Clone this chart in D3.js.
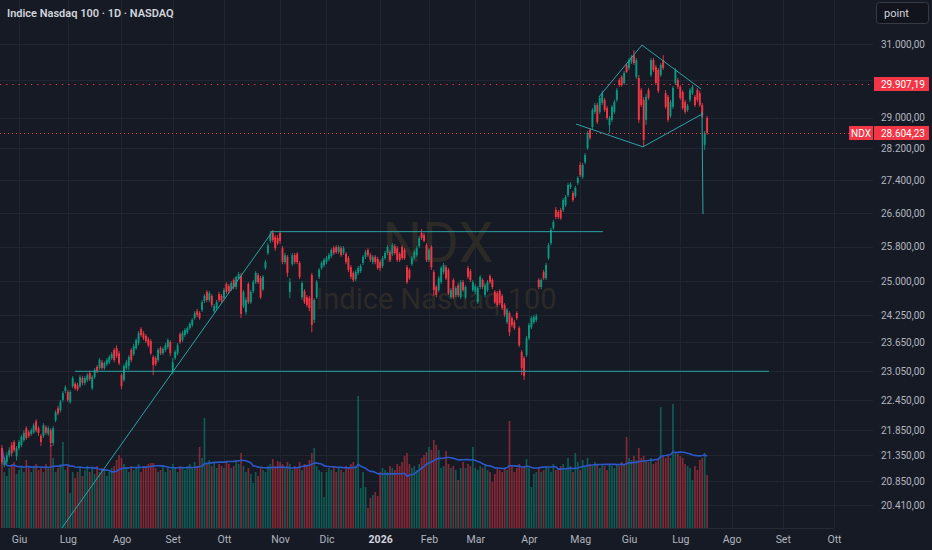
<!DOCTYPE html>
<html>
<head>
<meta charset="utf-8">
<script src="https://cdn.jsdelivr.net/npm/d3@7"></script>
<style>
	html, body { margin: 0; padding: 0; background: #161a25; }
	svg { display: block; font-family: Roboto, "Noto Sans", sans-serif; }
</style>
</head>
<body>
<div id="chart"></div>
<script>
// Bar k of the arrays is trading session (firstBar + k), session 0 = 2 giu 2025
var firstBar = -7;

var open = [
	21490,21160,21220,21350,21550,21610,21330,21490,21550,21650,
	21880,21800,21770,21800,22020,21880,21730,21730,21900,21770,
	21840,21590,22040,22280,22240,22450,22630,22610,22410,22730,
	22780,22750,22730,22900,22800,22860,23000,22690,22920,23130,
	23110,23230,23110,23190,23230,23320,23490,23530,23420,22960,
	22860,23110,23150,23490,23400,23530,23640,23940,23850,23790,
	23720,23680,23340,23320,23280,23530,23420,23490,23550,23660,
	23020,23320,23420,23830,23700,23810,23870,23960,24030,24180,
	24330,24290,24360,24560,24760,24580,24670,24330,24400,24710,
	24670,24620,24940,24890,24820,25030,24870,25070,25120,24450,
	24310,24940,24530,24780,24980,25140,25070,24820,25300,25650,
	25930,26120,26020,26000,26120,25760,25440,25560,24760,25390,
	25600,25630,25420,24640,24780,24640,24620,25140,24140,24640,
	25100,25300,25370,25440,25510,25580,25760,25790,25670,25760,
	25650,25630,25530,25320,25190,25050,25190,25230,25420,25560,
	25720,25600,25440,25560,25510,25440,25350,25530,25650,25670,
	25630,25810,25760,25630,25790,25720,25320,25260,25390,25530,
	25600,25810,26120,26070,25830,25490,25790,25210,24870,24800,
	24980,25210,25320,25260,24640,25030,24690,24910,24640,24980,
	24640,25300,25230,24800,24760,24530,24870,25030,24690,24800,
	25120,25030,24760,24730,24780,24670,24470,24090,24290,24180,
	24090,24290,23960,23450,23320,23380,23740,23980,24090,24140,
	25030,24870,25210,25070,25530,25880,26240,26670,26620,26670,
	26670,26790,27030,27230,27080,27010,27330,27780,27480,27850,
	28210,28680,28750,29150,29330,29150,29390,29470,29250,28800,
	28940,29150,29470,30000,30090,29920,30420,30330,30500,30690,
	30090,30060,29730,29470,28940,29730,30140,30550,30360,30280,
	30140,30550,29650,29550,29040,29280,29920,30000,29820,29680,
	29410,29200,29470,29650,29550,29730,29650,29330,28290,28990
];
var high = [
	21550,21310,21410,21510,21610,21650,21530,21650,21750,21840,
	21920,21840,21880,21980,22060,21920,21770,21980,21940,21920,
	21880,21920,22240,22330,22450,22630,22750,22650,22650,22940,
	22820,22800,22960,22940,22940,23000,23050,22960,23110,23170,
	23320,23280,23250,23320,23380,23450,23530,23590,23470,23000,
	23190,23280,23380,23530,23620,23740,23900,23980,23900,23830,
	23770,23720,23380,23360,23530,23570,23550,23640,23740,23700,
	23320,23490,23640,23870,23900,23960,24000,24090,24180,24330,
	24380,24330,24580,24710,24800,24780,24710,24490,24580,24760,
	24710,24850,24980,24940,25000,25070,25120,25210,25190,24800,
	24640,24980,24800,25030,25230,25190,25120,25140,25490,25880,
	26140,26190,26070,26070,26170,25810,25650,25600,25070,25650,
	25650,25670,25460,25000,24820,24690,24670,25190,24620,25030,
	25300,25460,25530,25580,25650,25760,25810,25830,25830,25810,
	25810,25670,25580,25370,25230,25260,25350,25390,25600,25720,
	25760,25650,25600,25600,25560,25490,25580,25700,25830,25720,
	25880,25860,25810,25670,25830,25760,25370,25300,25580,25720,
	25810,26050,26210,26120,25880,25760,25830,25260,24910,25120,
	25350,25420,25370,25300,24850,25070,24890,24960,25030,25030,
	24910,25350,25280,25030,24940,24890,25140,25070,24960,25030,
	25160,25070,24800,24780,24820,24710,24510,24400,24330,24220,
	24140,24330,24000,23490,23360,23790,24070,24220,24250,24270,
	25070,25070,25260,25420,25880,26240,26430,26740,26670,26720,
	26960,27030,27330,27350,27130,27260,27500,27850,27830,28080,
	28650,28730,29250,29390,29390,29570,29710,29520,29310,29040,
	29330,29470,29790,30060,30140,30250,30470,30610,30690,30830,
	30610,30140,29790,29540,29630,29790,30610,30610,30420,30330,
	30470,30690,29730,29600,29470,29840,30330,30060,29870,29730,
	29470,29360,29790,29870,29600,29790,29710,29390,28650,29040
];
var low = [
	21180,21120,21180,21310,21330,21410,21250,21450,21510,21610,
	21650,21690,21730,21770,21800,21730,21530,21690,21750,21730,
	21510,21530,22000,22140,22200,22410,22590,22410,22370,22690,
	22650,22630,22690,22750,22750,22820,22840,22650,22880,23000,
	23070,23070,23070,23150,23190,23280,23230,23320,23170,22670,
	22820,23070,23070,23230,23360,23490,23590,23770,23700,23640,
	23550,23380,22960,23150,23230,23380,23380,23450,23510,23360,
	22980,23280,23380,23620,23660,23770,23830,23920,23980,24140,
	24200,24140,24310,24510,24530,24530,24420,24290,24360,24530,
	24510,24580,24710,24730,24780,24820,24820,25030,24180,24400,
	24250,24490,24490,24730,24940,24940,24600,24780,25260,25600,
	25880,25900,25700,25830,25860,25390,25390,25100,24620,25350,
	25390,25390,25050,24580,24490,24420,24330,23870,24070,24600,
	25050,25260,25320,25390,25460,25530,25600,25630,25630,25560,
	25600,25390,25210,25050,24980,25000,25140,25190,25370,25510,
	25560,25440,25390,25390,25260,25230,25300,25490,25600,25440,
	25580,25600,25440,25440,25490,25490,24940,25030,25350,25490,
	25560,25760,25950,25900,25440,25440,25260,24670,24640,24760,
	24940,25160,25030,24690,24600,24600,24640,24640,24600,24760,
	24600,25050,24980,24760,24710,24490,24820,24820,24640,24760,
	24940,24820,24490,24420,24470,24360,24200,24050,23790,23980,
	23920,24140,23550,22960,22860,23340,23700,23940,24050,24090,
	24820,24820,25030,25030,25490,25830,26190,26450,26450,26430,
	26620,26740,26980,27180,26860,26960,27280,27480,27430,27800,
	28160,28420,28700,29090,28830,29090,29330,29150,28940,28600,
	28880,29090,29410,29820,29820,29870,30200,30280,30440,30420,
	30030,28860,29280,28240,28810,29470,30090,30220,29870,29650,
	30090,30280,29230,28880,28990,29230,29870,29760,29470,29200,
	29090,29150,29410,29600,29280,29410,29280,28990,28160,28550
];
var close = [
	21220,21250,21350,21450,21390,21450,21490,21610,21710,21790,
	21690,21730,21840,21940,21840,21790,21610,21940,21790,21880,
	21590,21880,22200,22180,22410,22590,22710,22450,22610,22900,
	22690,22670,22920,22800,22900,22960,22880,22920,23070,23050,
	23280,23110,23210,23280,23340,23400,23280,23360,23210,22730,
	23150,23230,23340,23280,23570,23700,23850,23810,23740,23680,
	23590,23420,23170,23190,23490,23420,23510,23590,23700,23420,
	23230,23450,23590,23660,23850,23920,23960,24050,24140,24290,
	24250,24180,24530,24670,24580,24730,24470,24440,24530,24580,
	24560,24800,24760,24780,24960,24870,25100,25160,24270,24760,
	24580,24530,24760,24980,25190,24980,24640,25100,25440,25830,
	26090,25950,25760,25880,25930,25440,25600,25190,24980,25600,
	25440,25440,25100,24960,24530,24470,24400,24030,24580,24980,
	25260,25420,25490,25530,25600,25720,25650,25670,25790,25600,
	25760,25440,25260,25100,25030,25210,25300,25350,25560,25670,
	25600,25490,25560,25440,25300,25300,25530,25650,25790,25490,
	25830,25650,25490,25490,25530,25530,24980,25070,25530,25670,
	25760,26000,26000,25930,25490,25720,25320,24800,24690,25070,
	25300,25370,25070,24730,24800,24640,24850,24690,24980,24800,
	24870,25100,25030,24980,24890,24850,25100,24870,24910,24980,
	24980,24870,24530,24470,24510,24400,24250,24360,23870,24030,
	23960,24180,23590,23110,22940,23740,24030,24180,24200,24220,
	24870,25030,25070,25370,25830,26190,26380,26500,26500,26470,
	26910,26980,27280,27300,26910,27210,27450,27530,27780,28030,
	28600,28470,29200,29330,28880,29520,29650,29200,28990,28990,
	29280,29410,29730,29870,29870,30200,30220,30550,30640,30470,
	30550,28940,29330,28420,29550,29520,30550,30280,29920,29710,
	30420,30330,29280,28940,29410,29790,30280,29820,29520,29250,
	29150,29310,29730,29820,29330,29470,29330,29040,28600,28604.23
];
// volume in millions
var volume = [
	800,560,520,600,640,660,540,580,620,560,
	680,600,560,620,640,580,600,560,640,600,
	830,700,560,600,640,860,580,620,350,560,
	500,560,600,520,580,620,560,600,540,620,
	560,600,580,520,560,600,620,680,730,700,
	640,600,560,620,580,600,640,560,620,600,
	640,650,650,600,560,580,620,560,600,580,
	640,600,560,620,600,580,620,640,600,660,
	620,810,700,1100,640,680,620,660,600,640,
	620,600,660,640,600,620,680,640,750,620,
	560,600,540,450,560,520,600,580,560,620,
	640,690,620,670,660,640,600,660,640,580,
	620,600,660,580,640,620,680,750,800,620,
	580,560,310,560,600,580,620,560,600,580,
	560,620,600,640,660,620,1320,400,560,410,
	200,300,330,360,320,560,600,580,560,620,
	600,580,640,620,660,720,750,640,600,620,
	580,640,700,730,760,810,780,880,830,780,
	600,620,770,640,600,620,580,480,600,660,
	600,640,620,810,600,580,620,600,640,580,
	560,460,540,600,580,560,600,580,1070,620,
	560,600,640,600,620,690,600,410,540,560,
	600,560,580,620,600,560,640,580,600,620,
	640,600,700,620,560,750,660,580,680,620,
	700,640,620,660,640,600,640,620,580,640,
	620,600,640,620,660,640,910,700,680,720,
	680,800,700,720,680,660,700,640,660,700,
	1210,720,700,720,700,1240,760,740,720,700,
	640,620,600,480,620,580,680,700,750,530
];

var monthLabels = ["Giu","Lug","Ago","Set","Ott","Nov","Dic","2026","Feb","Mar","Apr","Mag","Giu","Lug","Ago","Set","Ott"];
var monthBars   = [0, 20, 42, 63, 84, 107, 126, 148, 168, 187, 209, 230, 250, 271, 292, 313, 334];

var priceTicks = [31000,30000,29000,28200,27400,26600,25800,25000,24250,23650,23050,22450,21850,21350,20850,20410];
var prevClose = 29907.19;
var lastPrice = 28604.23;

// drawings: [bar1, price1, bar2, price2]
var trendLines = [
	[17.6, 19990, 103.7, 26140],
	[102.9, 26150, 239.3, 26150],
	[23, 23040, 307.4, 23040],
	[228.3, 28830, 255.7, 28240],
	[255.7, 28240, 279.9, 29090],
	[237.7, 29550, 255.3, 30970],
	[255.3, 30970, 279.5, 29760],
	[279.9, 29150, 280.3, 26570]
];

var W = 932, H = 550;
var plotRight = 873, plotBottom = 528;
var UP = "#089981", DOWN = "#f23645", LINE = "#2ba3a5";

var it = d3.formatLocale({decimal: ",", thousands: ".", grouping: [3], currency: ["", "€"]});
var fmt = it.format(",.2f");

var bars = close.map(function(c, k) {
	var from = Math.max(0, k - 19);
	return {
		i: firstBar + k, o: open[k], h: high[k], l: low[k], c: c, v: volume[k],
		ma: d3.mean(volume.slice(from, k + 1))
	};
});

var x = d3.scaleLinear().domain([0, 334]).range([19, 834]);
var y = d3.scaleLog().domain([20410, 31000]).range([505, 44]);
var yVol = d3.scaleLinear().domain([0, 1500]).range([plotBottom, 378]);

var svg = d3.select("#chart").append("svg")
	.attr("width", W)
	.attr("height", H);

svg.append("rect").attr("width", W).attr("height", H).attr("fill", "#161a25");

// grid
var grid = svg.append("g").attr("stroke", "#212531").attr("stroke-width", 1);
grid.selectAll("line.h")
	.data(priceTicks)
	.enter().append("line")
	.attr("x1", 0).attr("x2", plotRight)
	.attr("y1", function(d) { return Math.round(y(d)) + 0.5; })
	.attr("y2", function(d) { return Math.round(y(d)) + 0.5; });
grid.selectAll("line.v")
	.data(monthBars)
	.enter().append("line")
	.attr("y1", 0).attr("y2", plotBottom)
	.attr("x1", function(d) { return Math.round(x(d)) + 0.5; })
	.attr("x2", function(d) { return Math.round(x(d)) + 0.5; });

// watermark
svg.append("text")
	.attr("x", 438).attr("y", 262)
	.attr("text-anchor", "middle")
	.attr("font-size", 56)
	.attr("fill", "#2b2a27")
	.text("NDX");
svg.append("text")
	.attr("x", 436).attr("y", 309)
	.attr("text-anchor", "middle")
	.attr("font-size", 29)
	.attr("fill", "#2b2a27")
	.text("Indice Nasdaq 100");

// volume
svg.append("g").selectAll("rect")
	.data(bars)
	.enter().append("rect")
	.attr("x", function(d) { return x(d.i) - 0.85; })
	.attr("width", 1.7)
	.attr("y", function(d) { return yVol(d.v); })
	.attr("height", function(d) { return plotBottom - yVol(d.v); })
	.attr("fill", function(d) { return d.c >= d.o ? UP : DOWN; })
	.attr("fill-opacity", 0.5);

svg.append("path")
	.datum(bars)
	.attr("fill", "none")
	.attr("stroke", "#2b57c9")
	.attr("stroke-width", 1.6)
	.attr("d", d3.line()
		.x(function(d) { return x(d.i); })
		.y(function(d) { return yVol(d.ma); }));

// candles
var candle = svg.append("g").selectAll("g")
	.data(bars)
	.enter().append("g")
	.attr("fill", function(d) { return d.c >= d.o ? UP : DOWN; })
	.attr("stroke", function(d) { return d.c >= d.o ? UP : DOWN; });
candle.append("line")
	.attr("x1", function(d) { return x(d.i); })
	.attr("x2", function(d) { return x(d.i); })
	.attr("y1", function(d) { return y(d.h); })
	.attr("y2", function(d) { return y(d.l); })
	.attr("stroke-width", 0.9);
candle.append("rect")
	.attr("stroke", "none")
	.attr("x", function(d) { return x(d.i) - 0.95; })
	.attr("width", 1.9)
	.attr("y", function(d) { return y(Math.max(d.o, d.c)); })
	.attr("height", function(d) { return Math.max(1, Math.abs(y(d.o) - y(d.c))); });

// drawings
svg.append("g").selectAll("line")
	.data(trendLines)
	.enter().append("line")
	.attr("x1", function(d) { return x(d[0]); })
	.attr("y1", function(d) { return y(d[1]); })
	.attr("x2", function(d) { return x(d[2]); })
	.attr("y2", function(d) { return y(d[3]); })
	.attr("stroke", LINE)
	.attr("stroke-width", 1);

// price lines
svg.append("line")
	.attr("x1", 0).attr("x2", plotRight)
	.attr("y1", Math.round(y(prevClose)) + 0.5).attr("y2", Math.round(y(prevClose)) + 0.5)
	.attr("stroke", DOWN).attr("stroke-width", 1.2)
	.attr("stroke-dasharray", "1.2,5");
svg.append("line")
	.attr("x1", 0).attr("x2", 849)
	.attr("y1", Math.round(y(lastPrice)) + 0.5).attr("y2", Math.round(y(lastPrice)) + 0.5)
	.attr("stroke", DOWN).attr("stroke-width", 1)
	.attr("stroke-dasharray", "1,3");

// axes (labels hidden where a price tag sits on top of them)
var labelTicks = priceTicks.filter(function(d) {
	return Math.abs(y(d) - y(prevClose)) > 8;
});
var yAxis = svg.append("g")
	.attr("transform", "translate(" + plotRight + ",0)")
	.call(d3.axisRight(y).tickValues(labelTicks).tickFormat(fmt).tickSize(0).tickPadding(8));
yAxis.select(".domain").remove();
yAxis.selectAll("text")
	.attr("fill", "#b2b5be")
	.attr("font-size", 10)
	.attr("font-family", "Roboto, sans-serif");

var xAxis = svg.append("g")
	.attr("transform", "translate(0," + plotBottom + ")")
	.call(d3.axisBottom(x).tickValues(monthBars)
		.tickFormat(function(d, k) { return monthLabels[k]; })
		.tickSize(0).tickPadding(8));
xAxis.select(".domain").attr("stroke", "#262a35");
xAxis.selectAll("text")
	.attr("fill", function(d, k) { return monthLabels[k] == "2026" ? "#d1d4dc" : "#b2b5be"; })
	.attr("font-weight", function(d, k) { return monthLabels[k] == "2026" ? 700 : 400; })
	.attr("font-size", 10.5)
	.attr("font-family", "Roboto, sans-serif");

// price labels
function priceTag(px, value, w) {
	var yy = Math.round(y(value));
	svg.append("rect")
		.attr("x", px).attr("y", yy - 7)
		.attr("width", w).attr("height", 14)
		.attr("fill", DOWN);
	svg.append("text")
		.attr("x", px + 7).attr("y", yy + 4)
		.attr("fill", "#ffffff")
		.attr("font-size", 10)
		.text(fmt(value));
}
priceTag(874, prevClose, 55);
priceTag(874, lastPrice, 55);
var ty = Math.round(y(lastPrice));
svg.append("rect")
	.attr("x", 849).attr("y", ty - 7)
	.attr("width", 24).attr("height", 14)
	.attr("fill", DOWN);
svg.append("text")
	.attr("x", 861).attr("y", ty + 4)
	.attr("text-anchor", "middle")
	.attr("fill", "#ffffff")
	.attr("font-size", 10)
	.text("NDX");

// title
svg.append("text")
	.attr("x", 7).attr("y", 17)
	.attr("fill", "#d1d4dc")
	.attr("font-size", 11)
	.attr("font-weight", 600)
	.text("Indice Nasdaq 100 · 1D · NASDAQ");

// point button
svg.append("rect")
	.attr("x", 876.5).attr("y", 2.5)
	.attr("width", 52).attr("height", 21)
	.attr("rx", 3)
	.attr("fill", "#11141c")
	.attr("stroke", "#363a45");
svg.append("text")
	.attr("x", 884).attr("y", 17)
	.attr("fill", "#d1d4dc")
	.attr("font-size", 11)
	.text("point");
</script>
</body>
</html>
